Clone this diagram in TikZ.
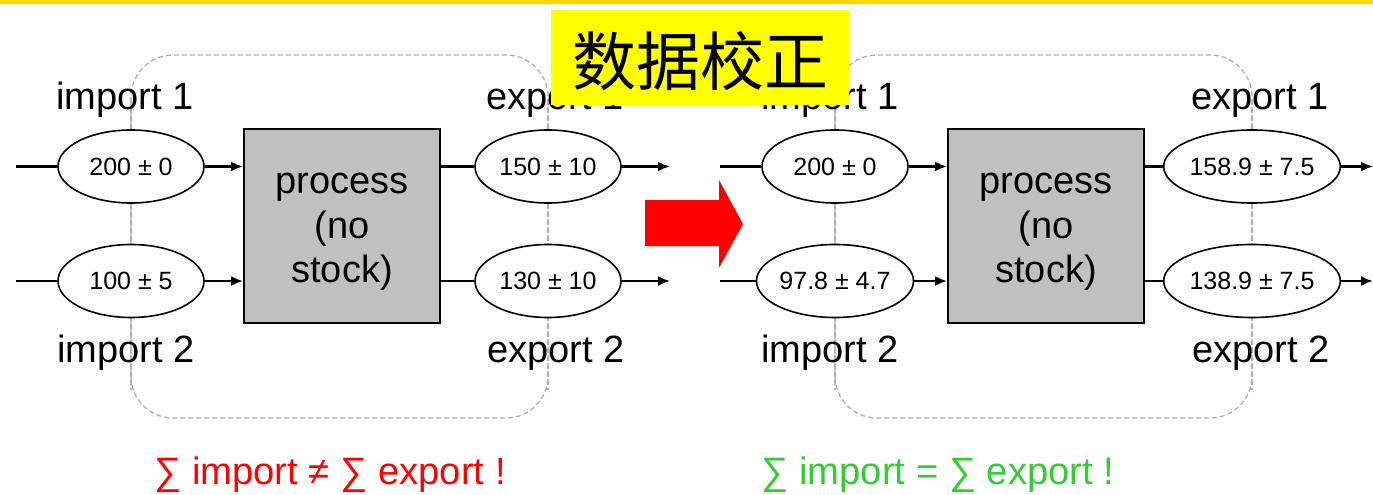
\documentclass[tikz,border=0pt]{standalone}
\usepackage{fontspec}
\setmainfont{Liberation Sans}
\newfontfamily\cjk{Noto Sans CJK SC}
\usetikzlibrary{shapes.geometric,arrows.meta}
\definecolor{band}{RGB}{255,214,0}
\definecolor{hl}{RGB}{255,255,0}
\definecolor{boxgray}{RGB}{192,192,192}
\definecolor{dashgray}{RGB}{175,175,175}
\definecolor{okgreen}{RGB}{51,204,51}
\tikzset{
  flow/.style={ellipse,draw=black,line width=1.6pt,fill=white,minimum width=146pt,minimum height=73pt,inner sep=0pt,font=\fontsize{25}{28}\selectfont},
  procbox/.style={rectangle,draw=black,line width=2pt,fill=boxgray,minimum width=196pt,minimum height=194pt},
  proctext/.style={align=center,font=\fontsize{38}{44.5}\selectfont},
  lbl/.style={anchor=base,font=\fontsize{38}{42}\selectfont},
  wire/.style={line width=2.3pt,black},
  arr/.style={wire,-{Latex[length=12pt,width=10pt]}},
  dashline/.style={draw=dashgray,line width=1.3pt,dash pattern=on 5pt off 3pt},
  region/.style={dashline,rounded corners=42pt},
  sumtext/.style={anchor=base,font=\fontsize{38.2}{42}\selectfont}
}
\begin{document}
\begin{tikzpicture}[x=1pt,y=-1pt]
\useasboundingbox (0,0) rectangle (1373,495);
\fill[white] (0,0) rectangle (1373,495);
% dashed balance regions
\draw[region] (131,55) rectangle (548,418);
\draw[region] (835,55) rectangle (1252,418);
\draw[dashline] (131,100) -- (131,390);
\draw[dashline] (548,100) -- (548,390);
\draw[dashline] (835,100) -- (835,390);
\draw[dashline] (1252,100) -- (1252,390);
% left diagram
\node[procbox] (p1) at (342,226) {};
\node[proctext] (pt1) at (342,232) {process\\(no\\stock)};
\node[flow] (i11) at (131,166.5) {200 ± 0};
\node[flow] (i12) at (131,281) {100 ± 5};
\node[flow] (e11) at (548,166.5) {150 ± 10};
\node[flow] (e12) at (548,281) {130 ± 10};
\coordinate (s11) at (16,166.5);
\coordinate (s12) at (16,281);
\coordinate (t11) at (670,166.5);
\coordinate (t12) at (670,281);
\draw[wire] (s11) -- (i11);
\draw[wire] (s12) -- (i12);
\draw[arr] (i11) -- (p1.west |- i11);
\draw[arr] (i12) -- (p1.west |- i12);
\draw[wire] (p1.east |- e11) -- (e11);
\draw[wire] (p1.east |- e12) -- (e12);
\draw[arr] (e11) -- (t11);
\draw[arr] (e12) -- (t12);
\node[lbl] (l11) at (125,110) {import 1};
\node[lbl] (l12) at (126,362) {import 2};
\node[lbl] (l13) at (555,110) {export 1};
\node[lbl] (l14) at (556,362) {export 2};
\node[sumtext,text=red] (sum1) at (330,484) {∑ import ≠ ∑ export !};
% right diagram
\node[procbox] (p2) at (1046,226) {};
\node[proctext] (pt2) at (1046,232) {process\\(no\\stock)};
\node[flow] (i21) at (835,166.5) {200 ± 0};
\node[flow] (i22) at (835,281) {97.8 ± 4.7};
\node[flow] (e21) at (1252,166.5) {158.9 ± 7.5};
\node[flow] (e22) at (1252,281) {138.9 ± 7.5};
\coordinate (s21) at (720,166.5);
\coordinate (s22) at (720,281);
\coordinate (t21) at (1373,166.5);
\coordinate (t22) at (1373,281);
\draw[wire] (s21) -- (i21);
\draw[wire] (s22) -- (i22);
\draw[arr] (i21) -- (p2.west |- i21);
\draw[arr] (i22) -- (p2.west |- i22);
\draw[wire] (p2.east |- e21) -- (e21);
\draw[wire] (p2.east |- e22) -- (e22);
\draw[arr] (e21) -- (t21);
\draw[arr] (e22) -- (t22);
\node[lbl] (l21) at (830,110) {import 1};
\node[lbl] (l22) at (830,362) {import 2};
\node[lbl] (l23) at (1260,110) {export 1};
\node[lbl] (l24) at (1261,362) {export 2};
\node[sumtext,text=okgreen] (sum2) at (938,484) {∑ import = ∑ export !};
% big red arrow
\fill[red] (645,200) -- (719,200) -- (719,180) -- (743,224) -- (719,268) -- (719,246) -- (645,246) -- cycle;
% title box
\node[fill=hl,minimum width=298pt,minimum height=95pt,inner sep=0pt] (title) at (700,57.5) {};
\node[font=\cjk\fontsize{64}{70}\selectfont,inner sep=0pt] (titletext) at (700,61) {数据校正};
% top band
\fill[band] (0,0) rectangle (1373,4);
\end{tikzpicture}
\end{document}
